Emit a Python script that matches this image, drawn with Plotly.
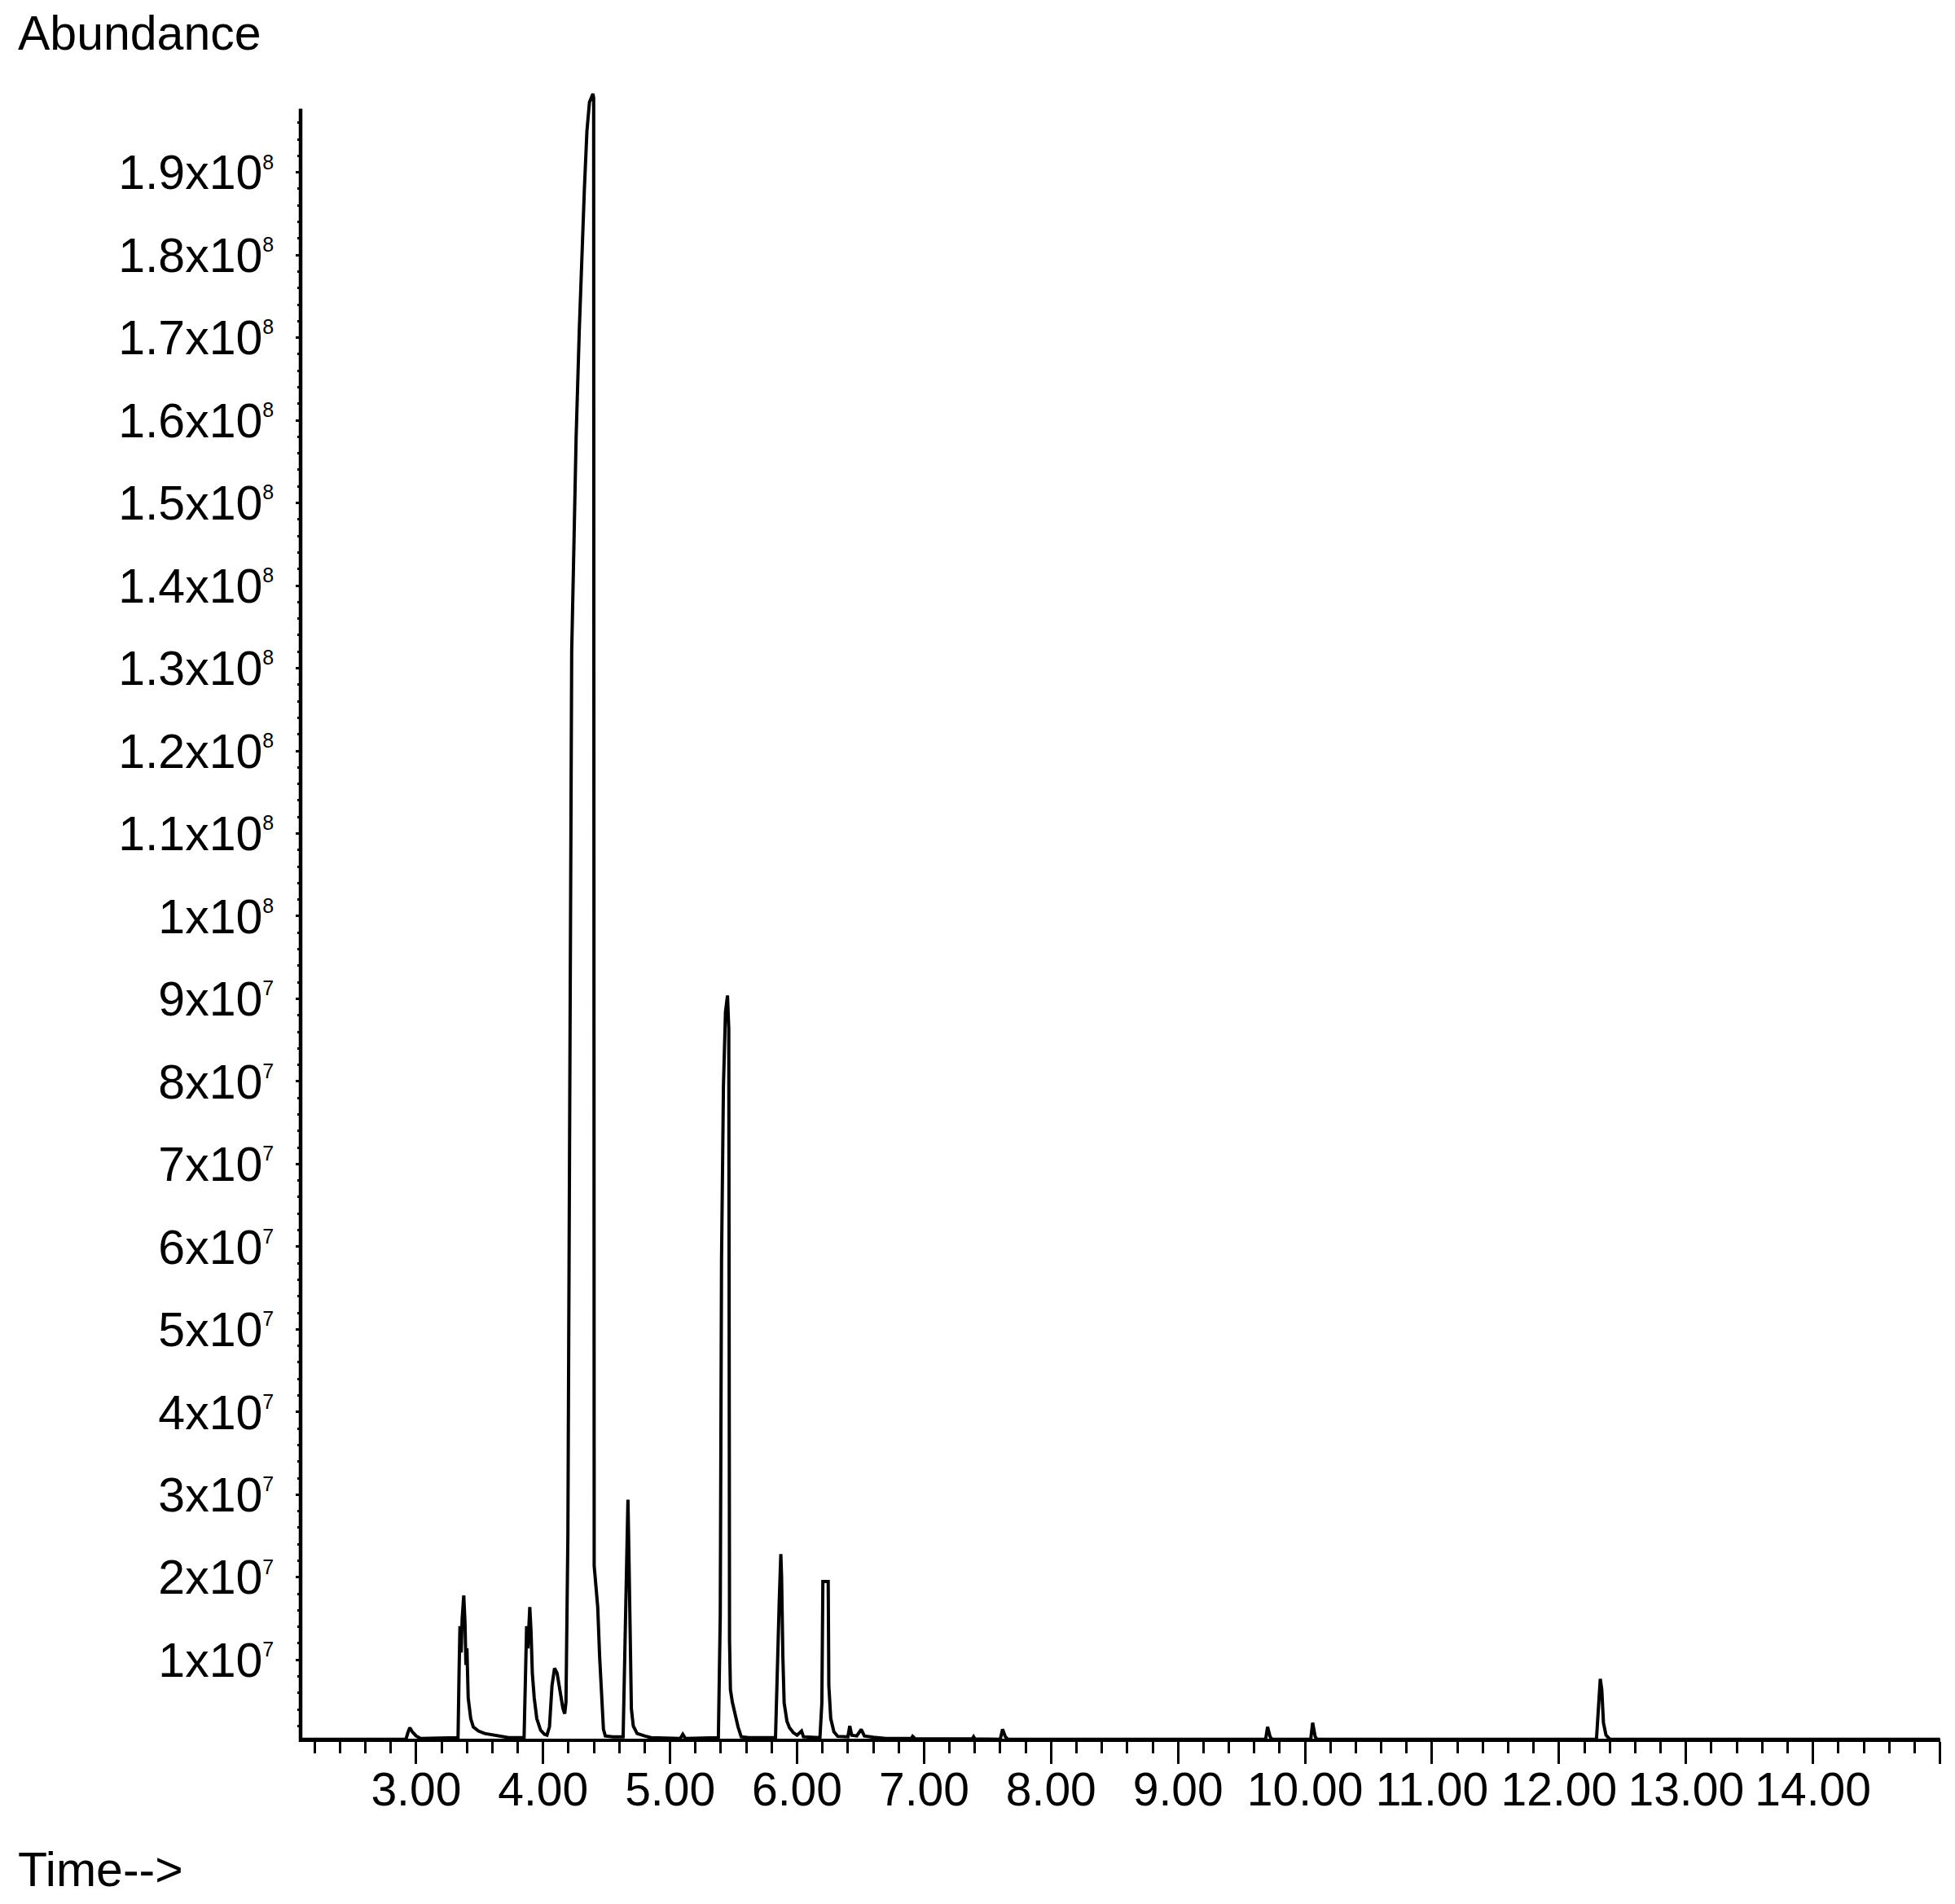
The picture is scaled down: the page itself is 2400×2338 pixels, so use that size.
"""
plot.py — GC-MS total ion chromatogram (Abundance vs retention time).

Usage: python plot.py
Output: out.html
"""
from __future__ import annotations
import plotly.graph_objects as go

# retention time (min) and abundance (counts)
rt_min = [
    2.09, 2.92, 2.935, 2.95, 2.97, 3.00, 3.035,
    3.33, 3.338, 3.345, 3.355, 3.362, 3.375, 3.385, 3.392, 3.40, 3.41, 3.43,
    3.45, 3.49, 3.54, 3.62, 3.73,
    3.85, 3.86, 3.87, 3.88, 3.895, 3.905, 3.915, 3.93, 3.95, 3.98, 4.01, 4.03,
    4.05, 4.07, 4.09, 4.11, 4.13, 4.155, 4.17,
    4.18, 4.195, 4.205, 4.215, 4.225, 4.24, 4.26, 4.285, 4.305, 4.325, 4.345,
    4.365, 4.392, 4.398, 4.402, 4.415, 4.43, 4.445, 4.46, 4.475, 4.49, 4.55,
    4.63, 4.645, 4.655, 4.668, 4.675, 4.685, 4.695, 4.71, 4.74, 4.80, 4.85,
    5.08, 5.10, 5.12,
    5.38, 5.395, 5.405, 5.42, 5.436, 5.452, 5.462, 5.468, 5.475, 5.49, 5.51,
    5.535, 5.56, 5.62,
    5.83, 5.845, 5.86, 5.872, 5.878, 5.888, 5.898, 5.92, 5.94, 5.97, 6.00,
    6.035, 6.05,
    6.18, 6.195, 6.203, 6.245, 6.25, 6.265, 6.29, 6.32,
    6.40, 6.415, 6.43, 6.47, 6.505, 6.53, 6.60, 6.70,
    6.90, 6.91, 6.93, 7.38, 7.39, 7.40,
    7.60, 7.618, 7.64, 7.66,
    9.69, 9.705, 9.725, 9.74,
    10.045, 10.06, 10.08, 10.095,
    12.295, 12.31, 12.325, 12.337, 12.35, 12.37, 12.40,
    15.0,
]
abundance = [
    0.4e6, 0.4e6, 1.2e6, 1.8e6, 1.3e6, 0.8e6, 0.5e6,
    0.6e6, 8.4e6, 14.1e6, 10.9e6, 14.9e6, 17.8e6, 14.4e6, 9.4e6, 11.4e6, 5.4e6, 2.9e6,
    1.9e6, 1.4e6, 1.1e6, 0.85e6, 0.6e6,
    0.6e6, 8.4e6, 14.1e6, 11.4e6, 16.4e6, 13.4e6, 8.4e6, 5.4e6, 2.9e6, 1.5e6, 1.0e6, 0.9e6,
    1.9e6, 6.9e6, 9.0e6, 8.4e6, 6.4e6, 4.2e6, 3.5e6,
    4.9e6, 25e6, 70e6, 110e6, 132e6, 143e6, 158e6, 171e6, 180e6, 188e6, 195e6,
    198.5e6, 199.5e6, 199e6, 21.4e6, 18.9e6, 16.4e6, 10.4e6, 5.4e6, 1.6e6, 0.8e6, 0.7e6,
    0.7e6, 12.4e6, 22.4e6, 29.4e6, 23.4e6, 10.4e6, 4.1e6, 2.0e6, 1.1e6, 0.8e6, 0.6e6,
    0.5e6, 1.0e6, 0.5e6,
    0.6e6, 15.4e6, 58.4e6, 79.4e6, 88.4e6, 90.4e6, 86.4e6, 12.4e6, 6.4e6, 4.9e6, 3.4e6,
    1.9e6, 0.7e6, 0.6e6,
    0.6e6, 10.4e6, 17.4e6, 22.8e6, 20.0e6, 10.4e6, 4.8e6, 2.6e6, 1.8e6, 1.2e6, 0.9e6,
    1.4e6, 0.7e6,
    0.6e6, 4.8e6, 19.5e6, 19.5e6, 6.9e6, 2.9e6, 1.3e6, 0.75e6,
    0.7e6, 2.0e6, 0.9e6, 0.8e6, 1.6e6, 0.8e6, 0.65e6, 0.5e6,
    0.5e6, 0.75e6, 0.45e6, 0.45e6, 0.7e6, 0.45e6,
    0.4e6, 1.6e6, 0.7e6, 0.4e6,
    0.4e6, 1.9e6, 0.7e6, 0.4e6,
    0.4e6, 2.4e6, 0.7e6, 0.4e6,
    0.4e6, 4.4e6, 7.7e6, 6.4e6, 2.4e6, 0.9e6, 0.4e6,
    0.4e6,
]

# axis ticks
x_ticks = [3, 4, 5, 6, 7, 8, 9, 10, 11, 12, 13, 14, 15]
x_labels = ["3.00", "4.00", "5.00", "6.00", "7.00", "8.00", "9.00",
            "10.00", "11.00", "12.00", "13.00", "14.00", ""]
y_ticks = [1e7, 2e7, 3e7, 4e7, 5e7, 6e7, 7e7, 8e7, 9e7, 1e8,
           1.1e8, 1.2e8, 1.3e8, 1.4e8, 1.5e8, 1.6e8, 1.7e8, 1.8e8, 1.9e8]
y_mantissa = ["1", "2", "3", "4", "5", "6", "7", "8", "9", "1",
              "1.1", "1.2", "1.3", "1.4", "1.5", "1.6", "1.7", "1.8", "1.9"]
y_exponent = ["7"] * 9 + ["8"] * 10

X_RANGE = [2.09, 15.003]
Y_RANGE = [0.47e6, 2.01e8]    # top leaves room for the saturated main peak
Y_AXIS_TOP = 1.977e8          # where the drawn y axis line stops
FONT = "Arial, Liberation Sans, sans-serif"

# figure is 8px smaller than the window: the page body adds an 8px margin
W, H = 2392, 2330
M_L, M_R, M_T, M_B = 361, 18, 92, 203


def build_figure() -> go.Figure:
    y_text = [f'{m}x10<sup><span style="font-size:25px">{e}</span></sup>'
              for m, e in zip(y_mantissa, y_exponent)]
    y_minor = [i * 2e6 for i in range(1, 99) if i % 5]

    fig = go.Figure(go.Scatter(
        x=rt_min, y=abundance, mode="lines",
        line=dict(color="black", width=4),
        hoverinfo="x+y", showlegend=False,
    ))

    fig.update_xaxes(
        range=X_RANGE,
        tickmode="array", tickvals=x_ticks, ticktext=x_labels,
        ticks="outside", ticklen=27, tickwidth=2.5, tickcolor="black",
        tickangle=0, ticklabelstandoff=-17,
        minor=dict(tickmode="linear", tick0=0, dtick=0.2, ticks="outside",
                   ticklen=14, tickwidth=2.5, tickcolor="black"),
        showline=True, linewidth=4, linecolor="black",
        showgrid=False, zeroline=False,
        tickfont=dict(family=FONT, size=57, color="black"),
    )
    fig.update_yaxes(
        range=Y_RANGE,
        tickmode="array", tickvals=y_ticks, ticktext=y_text,
        ticks="outside", ticklen=5, tickwidth=2.5, tickcolor="black",
        ticklabelstandoff=15,
        minor=dict(tickmode="array", tickvals=y_minor, ticks="outside",
                   ticklen=3, tickwidth=2.5, tickcolor="black"),
        showline=False, showgrid=False, zeroline=False,
        tickfont=dict(family=FONT, size=59, color="black"),
    )

    # y axis line stops below the top of the saturated peak
    y_top = (Y_AXIS_TOP - Y_RANGE[0]) / (Y_RANGE[1] - Y_RANGE[0])
    fig.add_shape(type="line", xref="paper", yref="paper",
                  x0=0, x1=0, y0=-0.002, y1=y_top,
                  line=dict(color="black", width=4.5))

    plot_w = W - M_L - M_R
    plot_h = H - M_T - M_B
    bottom = H - M_B
    ann_font = dict(family=FONT, size=59, color="black")
    fig.add_annotation(text="Abundance", xref="paper", yref="paper",
                       x=(12 - M_L) / plot_w, y=(bottom - 33) / plot_h,
                       xanchor="left", yanchor="middle", showarrow=False,
                       font=ann_font)
    fig.add_annotation(text="Time-->", xref="paper", yref="paper",
                       x=(12 - M_L) / plot_w, y=(bottom - 2288) / plot_h,
                       xanchor="left", yanchor="middle", showarrow=False,
                       font=ann_font)

    fig.update_layout(
        width=W, height=H,
        margin=dict(l=M_L, r=M_R, t=M_T, b=M_B),
        plot_bgcolor="white", paper_bgcolor="white",
        font=dict(family=FONT, size=56, color="black"),
    )
    return fig


def main():
    fig = build_figure()
    fig.write_html("out.html")
    print("Saved: out.html")


if __name__ == "__main__":
    main()
